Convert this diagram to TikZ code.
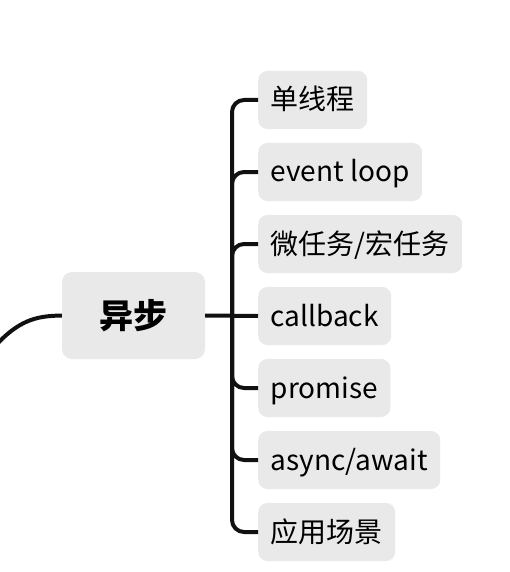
\documentclass[tikz,border=0pt]{standalone}
\usepackage{fontspec}
\setmainfont{Noto Sans CJK SC}
\definecolor{topicgray}{HTML}{E9E9E9}
\definecolor{linkblack}{HTML}{111111}

\begin{document}
\begin{tikzpicture}[x=1pt,y=-1pt,
    hub/.style={fill=topicgray, rounded corners=10pt, minimum width=143pt,
      minimum height=87pt, font=\fontsize{34}{40}\selectfont\bfseries},
    leaf/.style={fill=topicgray, rounded corners=9pt, anchor=west,
      minimum height=58pt, inner xsep=12.5pt, inner ysep=0pt,
      text height=24pt, text depth=4pt, font=\fontsize{28}{32}\selectfont},
    link/.style={draw=linkblack, line width=4pt, rounded corners=12pt}]
  \useasboundingbox (0,0) rectangle (510,572);
  \node[hub] (async) at (133.5, 315.5) {异步};
  \node[leaf] (single) at (258, 100) {单线程};
  \node[leaf] (loop) at (258, 172) {event loop};
  \node[leaf] (task) at (258, 244) {微任务/宏任务};
  \node[leaf] (callback) at (258, 316) {callback};
  \node[leaf] (promise) at (258, 388) {promise};
  \node[leaf] (await) at (258, 460) {async/await};
  \node[leaf] (usage) at (258, 532) {应用场景};
  \coordinate (parent) at (-2, 343);
  \coordinate (trunk) at (232, 316);
  % links
  \draw[link] (parent) .. controls (22, 318) and (40, 316) .. (async.west);
  \draw[link] (async.east) -- (callback.west);
  \foreach \leafname in {single, loop, task, promise, await, usage}
    \draw[link] (trunk) |- (\leafname.west);
\end{tikzpicture}
\end{document}
